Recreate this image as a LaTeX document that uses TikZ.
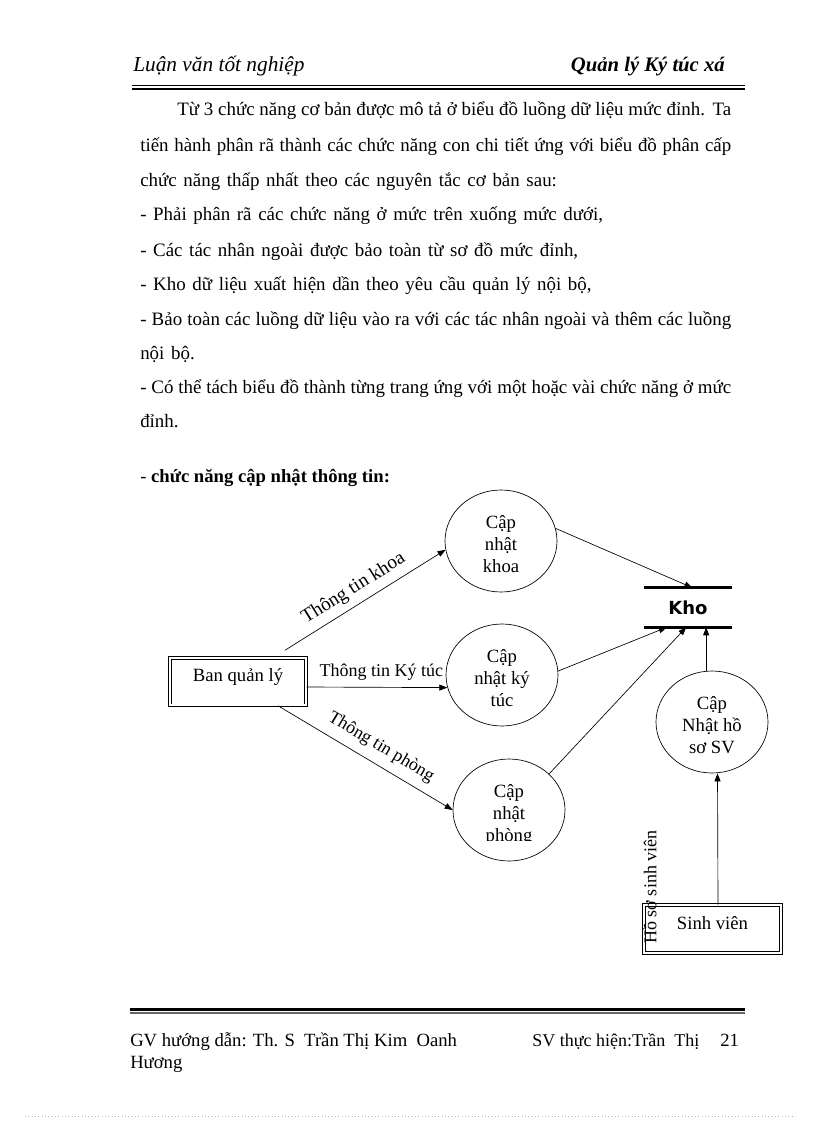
\documentclass[tikz,border=0pt]{standalone}
\usepackage{fontspec}
\setmainfont{Liberation Serif}
\newfontfamily\bodyfont[WordSpace=1.4]{Liberation Serif}
\newfontfamily\khofont{DejaVu Sans}
\usetikzlibrary{arrows.meta,shapes.geometric,calc}
\newcommand\procstrut{\rule{0pt}{15pt}}
\begin{document}
\begin{tikzpicture}[x=0.75pt,y=-0.75pt,
  bodytext/.style={anchor=base west,inner sep=0pt,font=\bodyfont\fontsize{14.2}{18}\selectfont},
  foottext/.style={anchor=base west,inner sep=0pt,font=\fontsize{14}{17}\selectfont},
  box/.style={draw,double,double distance=1.6pt,line width=0.6pt,minimum width=102.5pt,minimum height=35.8pt,text height=9pt,text depth=9pt,inner sep=0pt,font=\fontsize{14}{17}\selectfont},
  proc/.style={draw,ellipse,line width=0.5pt,minimum width=84pt,minimum height=76.5pt,inner sep=0pt,align=center,font=\fontsize{14}{16.5}\selectfont},
  arr/.style={-{Triangle[length=6pt,width=4.5pt]},line width=0.5pt},
  lbl/.style={inner sep=1pt,font=\fontsize{13.5}{16}\selectfont},
  rule/.style={line cap=butt}
]
\fill[white] (0,0) rectangle (816,1123);
\useasboundingbox (0,0) rectangle (816,1123);

% header
\node[anchor=base west,inner sep=0pt,font=\fontsize{16}{19}\selectfont\itshape] (hl) at (133,72) {Luận văn tốt nghiệp};
\node[anchor=base east,inner sep=0pt,font=\fontsize{15.5}{18}\selectfont\bfseries\itshape] (hr) at (725,72) {Quản lý Ký túc xá};
\draw[rule,line width=0.8pt] (132,85.5) -- (745,85.5);
\draw[rule,line width=1.5pt] (132,89) -- (745,89);

% body text
\node[bodytext] (p1) at (177,116) {\makebox[415.5pt][s]{Từ 3 chức năng cơ bản được mô tả ở biểu đồ luồng dữ liệu mức đỉnh. Ta}};
\node[bodytext] (p2) at (140,152) {\makebox[443.25pt][s]{tiến hành phân rã thành các chức năng con chi tiết ứng với biểu đồ phân cấp}};
\node[bodytext] (p3) at (140,187) {chức năng thấp nhất theo các nguyên tắc cơ bản sau:};
\node[bodytext] (p4) at (140,221) {- Phải phân rã các chức năng ở mức trên xuống mức dưới,};
\node[bodytext] (p5) at (140,256) {- Các tác nhân ngoài được bảo toàn từ sơ đồ mức đỉnh,};
\node[bodytext] (p6) at (140,290) {- Kho dữ liệu xuất hiện dần theo yêu cầu quản lý nội bộ,};
\node[bodytext] (p7) at (140,325) {\makebox[443.25pt][s]{- Bảo toàn các luồng dữ liệu vào ra với các tác nhân ngoài và thêm các luồng}};
\node[bodytext] (p8) at (140,359) {nội bộ.};
\node[bodytext] (p9) at (140,393) {\makebox[443.25pt][s]{- Có thể tách biểu đồ thành từng trang ứng với một hoặc vài chức năng ở mức}};
\node[bodytext] (p10) at (140,427) {đỉnh.};
\node[foottext] (p11) at (140,482) {- \textbf{chức năng cập nhật thông tin:}};

% diagram nodes
\node[box] (ban) at (238,681.5) {Ban quản lý};
\node[proc] (khoa) at (501,541) {\procstrut Cập\\nhật\\khoa};
\node[proc] (kytuc) at (502,675) {\procstrut Cập\\nhật ký\\túc};
\node[proc] (phong) at (509,810) {};
\begin{scope}
  \clip (450,750) rectangle (570,840.5);
  \node[align=center,inner sep=0pt,font=\fontsize{14}{16.5}\selectfont] (phongtxt) at (509,815) {Cập\\nhật\\phòng};
\end{scope}
\node[proc] (hoso) at (712,722) {\procstrut Cập\\Nhật hồ\\sơ SV};
\node[font=\khofont\bfseries\fontsize{13.5}{15}\selectfont,minimum width=66pt,minimum height=29.25pt,inner sep=0pt] (kho) at (688,607.5) {Kho};
\draw[rule,line width=2.2pt] (kho.north west) -- (kho.north east);
\draw[rule,line width=2.2pt] (kho.south west) -- (kho.south east);
\node[box] (sv) at (712.5,929) {Sinh viên};
\node[lbl,rotate=90] (hssv) at (650,887) {Hồ sơ sinh viên};

% connectors
\coordinate (kt) at ($(kho.north west)!0.55!(kho.north east)$);
\coordinate (kb1) at ($(kho.south west)!0.26!(kho.south east)$);
\coordinate (kb2) at ($(kho.south west)!0.48!(kho.south east)$);
\coordinate (kb3) at ($(kho.south west)!0.705!(kho.south east)$);

\draw[arr] ($(ban.north)+(47,-7)$) -- node[lbl,sloped,above=4pt,pos=0.48,font=\fontsize{14.5}{17}\selectfont] (l1) {Thông tin khoa} (khoa.189);
\draw[arr] ($(ban.east)+(0,5.5)$) -- node[lbl,above=4pt,pos=0.53] (l2) {Thông tin Ký túc} (kytuc.193);
\draw[arr] ($(ban.south)+(40,0)$) -- node[lbl,sloped,above=5.5pt,pos=0.54] (l3) {Thông tin phòng} (phong.west);
\draw[arr] (khoa.13) -- (kt);
\draw[arr] (kytuc.4) -- (kb1);
\draw[arr] (phong.42) -- (kb2);
\draw[arr] (hoso.north -| kb3) -- (kb3);
\draw[arr] ($(sv.north)+(5.5,0)$) -- ($(hoso.south)+(5.5,0)$);

% footer
\draw[rule,line width=1.8pt] (130,1009.5) -- (745,1009.5);
\draw[rule,line width=1pt,black!60] (130,1013) -- (745,1013);
\node[foottext] (f1) at (130,1046) {GV hướng dẫn: Th. S\ \ Trần Thị Kim\ \ Oanh};
\node[foottext,font=\fontsize{13.5}{16}\selectfont] (f2) at (532,1046) {SV thực hiện:Trần\ \ Thị};
\node[foottext] (f3) at (720,1046) {21};
\node[foottext] (f4) at (130,1068) {Hương};
\draw[gray!60,dotted,line width=0.5pt] (25,1116) -- (795,1116);
\end{tikzpicture}
\end{document}
